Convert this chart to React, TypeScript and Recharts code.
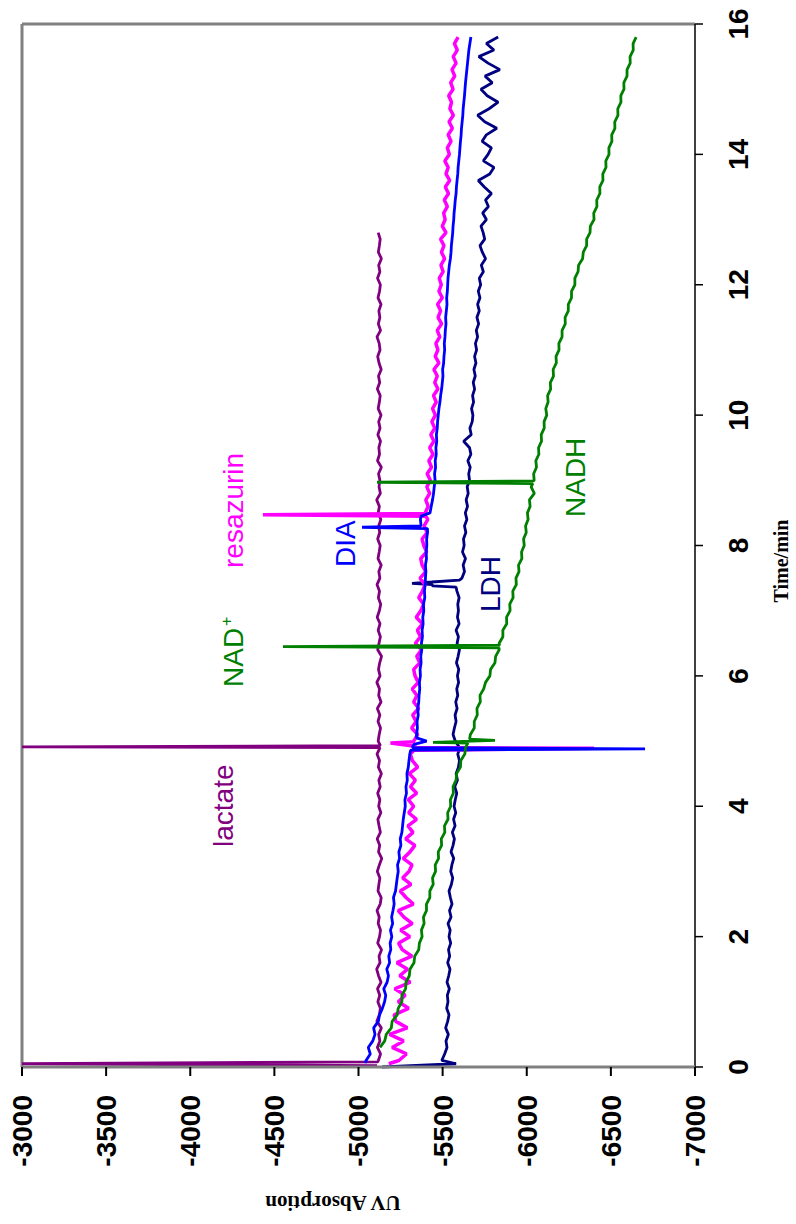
import React from 'react';
import { LineChart, Line, XAxis, YAxis, ReferenceLine } from 'recharts';

// time grid (min)
const timeGrid = [
  0.1, 0.2, 0.3, 0.4, 0.5, 0.6, 0.7, 0.8, 0.9, 1.0,
  1.1, 1.2, 1.3, 1.4, 1.5, 1.6, 1.7, 1.8, 1.9, 2.0,
  2.1, 2.2, 2.3, 2.4, 2.5, 2.6, 2.7, 2.8, 2.9, 3.0,
  3.1, 3.2, 3.3, 3.4, 3.5, 3.6, 3.7, 3.8, 3.9, 4.0,
  4.1, 4.2, 4.3, 4.4, 4.5, 4.6, 4.7, 4.8, 4.9, 5.0,
  5.1, 5.2, 5.3, 5.4, 5.5, 5.6, 5.7, 5.8, 5.9, 6.0,
  6.1, 6.2, 6.3, 6.4, 6.5, 6.6, 6.7, 6.8, 6.9, 7.0,
  7.1, 7.2, 7.3, 7.4, 7.5, 7.6, 7.7, 7.8, 7.9, 8.0,
  8.1, 8.2, 8.3, 8.4, 8.5, 8.6, 8.7, 8.8, 8.9, 9.0,
  9.1, 9.2, 9.3, 9.4, 9.5, 9.6, 9.7, 9.8, 9.9, 10.0,
  10.1, 10.2, 10.3, 10.4, 10.5, 10.6, 10.7, 10.8, 10.9, 11.0,
  11.1, 11.2, 11.3, 11.4, 11.5, 11.6, 11.7, 11.8, 11.9, 12.0,
  12.1, 12.2, 12.3, 12.4, 12.5, 12.6, 12.7, 12.8, 12.9, 13.0,
  13.1, 13.2, 13.3, 13.4, 13.5, 13.6, 13.7, 13.8, 13.9, 14.0,
  14.1, 14.2, 14.3, 14.4, 14.5, 14.6, 14.7, 14.8, 14.9, 15.0,
  15.1, 15.2, 15.3, 15.4, 15.5, 15.6, 15.7, 15.8,
];

const timeTicks = [0, 2, 4, 6, 8, 10, 12, 14, 16];
const absTicks = [-3000, -3500, -4000, -4500, -5000, -5500, -6000, -6500, -7000];

// lactate (purple), 0.1 .. 12.8
const lactateValues = [
  -5118, -5131, -5112, -5127, -5120, -5136, -5109, -5124, -5130, -5115,
  -5126, -5113, -5134, -5119, -5108, -5128, -5122, -5137, -5114, -5125,
  -5131, -5117, -5123, -5110, -5129, -5135, -5116, -5121, -5127, -5112,
  -5124, -5138, -5119, -5126, -5111, -5130, -5122, -5115, -5133, -5120,
  -5127, -5114, -5129, -5121, -5136, -5118, -5125, -5110, -5128, -5117,
  -5123, -5131, -5116, -5127, -5112, -5134, -5120, -5125, -5109, -5128,
  -5119, -5126, -5137, -5114, -5122, -5130, -5117, -5128, -5111, -5124,
  -5132, -5118, -5125, -5110, -5127, -5121, -5135, -5116, -5123, -5129,
  -5114, -5126, -5120, -5133, -5117, -5124, -5108, -5130, -5122, -5127,
  -5119, -5136, -5113, -5125, -5121, -5131, -5115, -5128, -5120, -5134,
  -5117, -5124, -5129, -5112, -5126, -5119, -5135, -5122, -5114, -5128,
  -5123, -5110, -5131, -5118, -5127, -5121, -5134, -5116, -5125, -5130,
  -5113, -5127, -5120, -5136, -5118, -5124, -5129, -5117,
];
const lactateSpikes: [number, number][] = [
  [0.02, -5110], [0.05, -3000], [0.08, -5115], [4.91, -3000], [4.93, -5130],
];

// resazurin (magenta), 0.1 .. 15.8
const resazurinValues = [
  -5240, -5285, -5200, -5268, -5185, -5290, -5222, -5212, -5298, -5236,
  -5278, -5215, -5308, -5245, -5292, -5228, -5318, -5260, -5238, -5305,
  -5250, -5320, -5270, -5236, -5326, -5282, -5248, -5312, -5262, -5300,
  -5318, -5266, -5306, -5335, -5280, -5324, -5294, -5345, -5298, -5328,
  -5296, -5346, -5309, -5338, -5302, -5352, -5320, -5308, -5344, -5328,
  -5352, -5316, -5342, -5322, -5358, -5328, -5347, -5320, -5355, -5336,
  -5328, -5364, -5346, -5375, -5338, -5368, -5350, -5380, -5343, -5370,
  -5387, -5358, -5380, -5395, -5366, -5400, -5378, -5370, -5405, -5388,
  -5378, -5408, -5390, -5412, -5396, -5414, -5400, -5423, -5406, -5427,
  -5408, -5434, -5418, -5443, -5423, -5448, -5430, -5453, -5436, -5457,
  -5440, -5462, -5446, -5472, -5453, -5468, -5448, -5478, -5456, -5472,
  -5460, -5483, -5468, -5494, -5473, -5488, -5470, -5498, -5478, -5492,
  -5480, -5503, -5490, -5512, -5493, -5508, -5488, -5520, -5498, -5515,
  -5506, -5528, -5510, -5535, -5516, -5542, -5520, -5533, -5513, -5540,
  -5528, -5550, -5533, -5558, -5538, -5564, -5543, -5553, -5536, -5562,
  -5548, -5572, -5556, -5580, -5563, -5587, -5570, -5592,
];
const resazurinSpikes: [number, number][] = [
  [0.05, -5180], [4.86, -5330], [4.89, -6400], [4.92, -5335], [4.97, -5190], [4.99, -5335],
  [8.45, -5400], [8.47, -4432], [8.49, -5405],
];

// DIA (blue), 0.1 .. 15.8
const diaValues = [
  -5045, -5070, -5058, -5085, -5098, -5090, -5118, -5125, -5142, -5155,
  -5162, -5150, -5170, -5178, -5168, -5185, -5180, -5192, -5188, -5198,
  -5190, -5203, -5197, -5205, -5212, -5208, -5220, -5225, -5230, -5236,
  -5232, -5244, -5240, -5252, -5248, -5258, -5262, -5266, -5272, -5278,
  -5276, -5285, -5282, -5290, -5288, -5296, -5300, -5305, -5320, -5405,
  -5345, -5350, -5348, -5355, -5352, -5358, -5360, -5364, -5362, -5368,
  -5366, -5372, -5370, -5376, -5374, -5380, -5378, -5384, -5382, -5388,
  -5386, -5394, -5392, -5396, -5398, -5400, -5398, -5404, -5402, -5406,
  -5405, -5410, -5372, -5368, -5425, -5432, -5440, -5446, -5450, -5455,
  -5452, -5458, -5456, -5462, -5460, -5465, -5463, -5468, -5470, -5474,
  -5478, -5484, -5488, -5494, -5498, -5502, -5500, -5506, -5508, -5512,
  -5510, -5514, -5516, -5520, -5518, -5522, -5526, -5524, -5528, -5530,
  -5532, -5536, -5540, -5546, -5550, -5552, -5556, -5560, -5562, -5566,
  -5568, -5572, -5575, -5580, -5582, -5586, -5590, -5592, -5596, -5600,
  -5603, -5606, -5610, -5612, -5616, -5620, -5622, -5626, -5630, -5633,
  -5636, -5640, -5644, -5648, -5652, -5656, -5662, -5668,
];
const diaSpikes: [number, number][] = [
  [0.06, -5040], [4.86, -5310], [4.88, -6703], [4.95, -5330], [5.05, -5345],
  [8.26, -5410], [8.28, -5021], [8.45, -5372],
];

// LDH (navy), 0.1 .. 15.8
const ldhValues = [
  -5495, -5512, -5526, -5520, -5534, -5518, -5530, -5538, -5524, -5532,
  -5528, -5540, -5526, -5536, -5544, -5530, -5542, -5535, -5548, -5538,
  -5545, -5532, -5550, -5541, -5556, -5546, -5538, -5552, -5560, -5548,
  -5555, -5566, -5550, -5562, -5570, -5558, -5574, -5565, -5578, -5568,
  -5575, -5584, -5572, -5588, -5580, -5594, -5600, -5590, -5600, -5575,
  -5562, -5570, -5580, -5574, -5586, -5578, -5590, -5584, -5595, -5588,
  -5596, -5582, -5592, -5600, -5586, -5594, -5580, -5598, -5588, -5594,
  -5590, -5598, -5585, -5438, -5615, -5630, -5622, -5636, -5618, -5628,
  -5624, -5638, -5630, -5644, -5635, -5648, -5640, -5652, -5646, -5660,
  -5655, -5664, -5650, -5668, -5660, -5625, -5670, -5662, -5676, -5680,
  -5672, -5684, -5678, -5690, -5682, -5694, -5686, -5698, -5690, -5702,
  -5695, -5708, -5700, -5714, -5704, -5718, -5708, -5722, -5712, -5726,
  -5718, -5742, -5730, -5755, -5736, -5722, -5750, -5741, -5728, -5760,
  -5738, -5772, -5755, -5790, -5748, -5712, -5780, -5805, -5742, -5770,
  -5790, -5735, -5760, -5822, -5750, -5708, -5776, -5830, -5765, -5728,
  -5795, -5752, -5840, -5770, -5715, -5805, -5760, -5830,
];
const ldhSpikes: [number, number][] = [
  [0.0, -5140], [0.05, -5580], [4.86, -5598], [4.88, -5820],
  [7.36, -5580], [7.38, -5440], [7.42, -5318], [7.44, -5435], [7.47, -5600],
];

// NADH (green), 0.1 .. 15.8 (starts at 0.3)
const nadhValues = [
  null, null, -5128, -5156, -5165, -5195, -5200, -5230, -5236, -5258,
  -5258, -5280, -5282, -5302, -5306, -5330, -5334, -5358, -5362, -5378,
  -5374, -5390, -5386, -5404, -5404, -5424, -5424, -5444, -5440, -5458,
  -5456, -5476, -5474, -5494, -5492, -5513, -5511, -5532, -5530, -5548,
  -5546, -5564, -5562, -5580, -5583, -5606, -5608, -5632, -5636, null,
  -5665, -5688, -5688, -5706, -5704, -5724, -5722, -5744, -5755, -5781,
  -5785, -5811, -5815, -5836, -5836, -5858, -5858, -5881, -5880, -5901,
  -5899, -5919, -5917, -5938, -5936, -5954, -5951, -5971, -5969, -5985,
  -5981, -5997, -5993, -6008, -6004, -6020, -6016, -6045, -6026, -6044,
  -6041, -6058, -6054, -6072, -6070, -6088, -6086, -6104, -6103, -6119,
  -6113, -6127, -6124, -6142, -6140, -6159, -6157, -6176, -6174, -6192,
  -6191, -6210, -6210, -6229, -6228, -6247, -6247, -6266, -6266, -6286,
  -6286, -6305, -6308, -6332, -6336, -6356, -6356, -6376, -6378, -6400,
  -6398, -6417, -6416, -6435, -6434, -6453, -6452, -6471, -6470, -6489,
  -6488, -6506, -6505, -6524, -6523, -6542, -6541, -6560, -6559, -6578,
  -6577, -6596, -6596, -6615, -6614, -6633, -6632, -6650,
];
const nadhSpikes: [number, number][] = [
  [4.97, -5650], [4.98, -5443], [5.01, -5811], [5.03, -5660],
  [6.43, -5835], [6.45, -4551], [6.47, -5838],
  [8.95, -6036], [8.97, -5110], [8.99, -6040],
];

type Pt = { t: number; v: number };
function build(values: (number | null)[], spikes: [number, number][]): Pt[] {
  const pts: Pt[] = [];
  values.forEach((v, i) => {
    if (v !== null) pts.push({ t: timeGrid[i], v });
  });
  spikes.forEach(([t, v]) => pts.push({ t, v }));
  pts.sort((a, b) => a.t - b.t);
  return pts;
}

const series = [
  { name: 'lactate', color: '#800080', width: 2.8, data: build(lactateValues, lactateSpikes) },
  { name: 'LDH', color: '#000080', width: 2.8, data: build(ldhValues, ldhSpikes) },
  { name: 'resazurin', color: '#FF00FF', width: 3.5, data: build(resazurinValues, resazurinSpikes) },
  { name: 'DIA', color: '#0000FF', width: 2.8, data: build(diaValues, diaSpikes) },
  { name: 'NADH', color: '#008000', width: 2.8, data: build(nadhValues, nadhSpikes) },
];

const sans = '"Liberation Sans", Arial, sans-serif';
const serif = '"Liberation Serif", "Times New Roman", serif';
const W = 1224;
const H = 796;

export default function App() {
  const tickStyle = { fontFamily: sans, fontWeight: 700, fontSize: 28, fill: '#000' };
  return (
    <div style={{ position: 'absolute', left: 0, top: 0, width: 796, height: 1224, overflow: 'hidden', background: '#fff' }}>
      <div
        style={{
          position: 'absolute',
          left: 0,
          top: 0,
          width: W,
          height: H,
          transformOrigin: '0 0',
          transform: `translateY(${W}px) rotate(-90deg)`,
        }}
      >
        <LineChart width={W} height={H} margin={{ top: 22, right: 24, bottom: 0, left: 0 }}>
          <XAxis
            type="number"
            dataKey="t"
            domain={[0, 16]}
            ticks={timeTicks}
            interval={0}
            height={101}
            axisLine={{ stroke: '#000', strokeWidth: 1.5 }}
            tickLine={{ stroke: '#000', strokeWidth: 1.5 }}
            tickSize={8}
            tickMargin={25}
            tick={tickStyle}
          />
          <YAxis
            type="number"
            domain={[-7000, -3000]}
            ticks={absTicks}
            interval={0}
            width={157}
            allowDataOverflow
            axisLine={{ stroke: '#808080', strokeWidth: 3 }}
            tickLine={{ stroke: '#000', strokeWidth: 2 }}
            tickSize={9}
            tickMargin={19}
            tick={tickStyle}
          />
          <ReferenceLine x={16} stroke="#808080" strokeWidth={3} />
          <ReferenceLine y={-3000} stroke="#808080" strokeWidth={3} />
          {series.map((s) => (
            <Line
              key={s.name}
              data={s.data}
              dataKey="v"
              name={s.name}
              type="linear"
              stroke={s.color}
              strokeWidth={s.width}
              strokeLinejoin="bevel"
              dot={false}
              activeDot={false}
              isAnimationActive={false}
            />
          ))}
        </LineChart>
        <svg
          width={W}
          height={H}
          style={{ position: 'absolute', left: 0, top: 0, pointerEvents: 'none' }}
        >
          <g fontFamily={sans} fontSize={28}>
            <text x={377} y={233} fill="#800080">lactate</text>
            <text x={537} y={243} fill="#008000">
              NAD<tspan dx={2} dy={-11} fontSize={16}>+</tspan>
            </text>
            <text x={656} y={243} fill="#FF00FF">resazurin</text>
            <text x={657} y={355} fill="#0000FF">DIA</text>
            <text x={612} y={500} fill="#000080">LDH</text>
            <text x={707} y={585} fill="#008000">NADH</text>
          </g>
          <text x={663} y={788} textAnchor="middle" fontFamily={serif} fontWeight={700} fontSize={20} fill="#000">
            Time/min
          </text>
          <text
            x={28}
            y={333}
            textAnchor="middle"
            transform="rotate(-90, 28, 333)"
            fontFamily={serif}
            fontWeight={700}
            fontSize={21}
            fill="#000"
          >
            UV Absorption
          </text>
        </svg>
      </div>
    </div>
  );
}
